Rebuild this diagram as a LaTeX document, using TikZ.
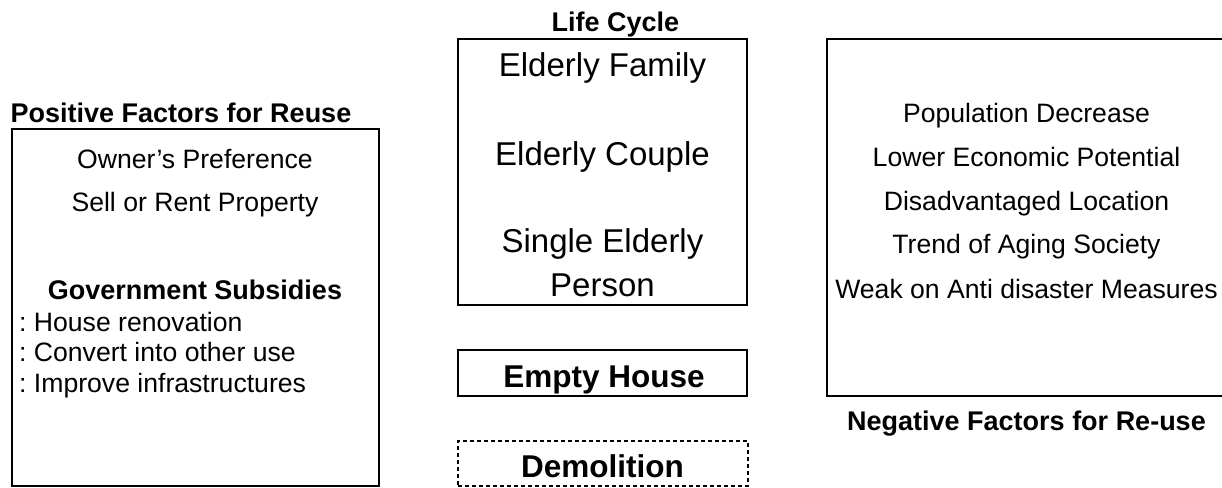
\documentclass[tikz,border=0pt]{standalone}
\usepackage{fontspec}
\setmainfont{Liberation Sans}
\begin{document}
\frenchspacing
\begin{tikzpicture}[x=1pt,y=-1pt,
  frame/.style={draw=black,line width=2pt,inner sep=0pt,outer sep=0pt},
  dashframe/.style={frame,line width=2.5pt,dash pattern=on 4pt off 3pt},
  body/.style={anchor=base,inner sep=0pt,font=\fontsize{26.6}{30}\selectfont},
  item/.style={anchor=base west,inner sep=0pt,font=\fontsize{26.6}{30}\selectfont},
  big/.style={anchor=base,inner sep=0pt,font=\fontsize{33}{36}\selectfont},
  title/.style={anchor=base,inner sep=0pt,font=\fontsize{27}{30}\selectfont\bfseries},
  bigbold/.style={anchor=base,inner sep=0pt,font=\fontsize{31.5}{34}\selectfont\bfseries}]
\clip (0,0) rectangle (1222,487);
% boxes
\node[frame,minimum width=367pt,minimum height=357pt] (pos) at (195.5,307.5) {};
\node[frame,minimum width=289pt,minimum height=266pt] (life) at (602.5,172) {};
\node[frame,minimum width=289pt,minimum height=46pt] (empty) at (602.5,373) {};
\node[dashframe,minimum width=290pt,minimum height=45pt] (demo) at (603,463.5) {};
\node[frame,minimum width=413pt,minimum height=357pt] (neg) at (1033.5,217.5) {};
% left
\node[title] (tpos) at (181,122) {Positive Factors for Reuse};
\node[body] (p1) at (195,168) {Owner’s Preference};
\node[body] (p2) at (195,211) {Sell or Rent Property};
\node[title] (p3) at (195,299) {Government Subsidies};
\node[item] (p4) at (19,331) {: House renovation};
\node[item] (p5) at (19,361) {: Convert into other use};
\node[item] (p6) at (19,392) {: Improve infrastructures};
% middle
\node[title] (tlife) at (615.5,32) {Life Cycle};
\node[big] (l1) at (602.5,77) {Elderly Family};
\node[big] (l2) at (602.5,165) {Elderly Couple};
\node[big] (l3) at (602.5,252) {Single Elderly};
\node[big] (l4) at (602.5,296) {Person};
\node[bigbold] (e1) at (604,387) {Empty House};
\node[bigbold] (d1) at (602.5,477) {Demolition};
% right
\node[body] (n1) at (1026.5,122) {Population Decrease};
\node[body] (n2) at (1026.5,166) {Lower Economic Potential};
\node[body] (n3) at (1026.5,210) {Disadvantaged Location};
\node[body] (n4) at (1026.5,253) {Trend of Aging Society};
\node[body] (n5) at (1026.5,298) {Weak on Anti disaster Measures};
\node[title] (tneg) at (1026.5,430) {Negative Factors for Re-use};
\end{tikzpicture}
\end{document}
